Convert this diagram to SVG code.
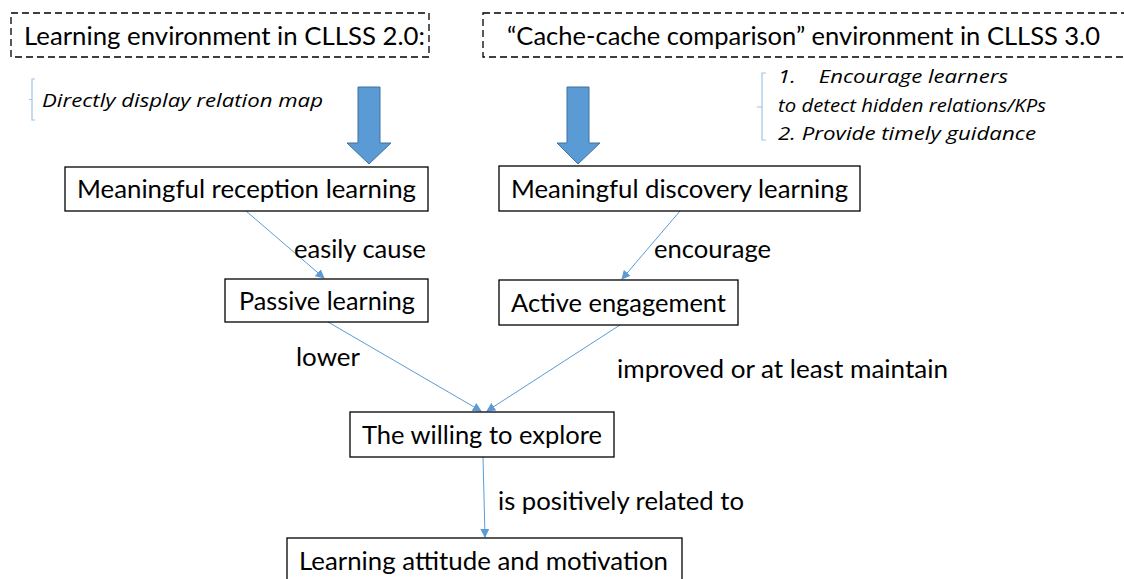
<svg xmlns="http://www.w3.org/2000/svg" width="1124" height="579" viewBox="0 0 1124 579">
<style>
.t{font-family:Lato,"Open Sans","Liberation Sans",sans-serif;font-size:25px;fill:#000}
.i{font-family:"Open Sans","Liberation Sans",sans-serif;font-style:italic;font-size:19px;fill:#000}
.box{fill:#fff;stroke:#000;stroke-width:1.3}
.dash{fill:#fff;stroke:#000;stroke-width:1.3;stroke-dasharray:7 4}
.con{stroke:#5B9BD5;stroke-width:1;fill:none;marker-end:url(#ah)}
.brace{stroke:#9DC3E6;stroke-width:1.2;fill:none}
.big{fill:#5B9BD5;stroke:#41719C;stroke-width:1}
</style>
<defs>
<marker id="ah" viewBox="0 0 10 10" refX="9" refY="5" markerWidth="9" markerHeight="9" markerUnits="userSpaceOnUse" orient="auto">
<path d="M0,0 L10,5 L0,10 z" fill="#5B9BD5"/>
</marker>
</defs>
<rect width="1124" height="579" fill="#fff"/>

<g id="env20">
<rect class="dash" x="11" y="13" width="418" height="44"/>
<text class="t" x="24" y="45" textLength="401" lengthAdjust="spacingAndGlyphs">Learning environment in CLLSS 2.0:</text>
</g>
<g id="env30">
<rect class="dash" x="483" y="13" width="650" height="44"/>
<text class="t" x="507" y="45" textLength="593" lengthAdjust="spacingAndGlyphs">“Cache-cache comparison” environment in CLLSS 3.0</text>
</g>

<g id="note20">
<path class="brace" d="M35,79 H32 V120 H35 M32,99.5 H29"/>
<text class="i" x="42" y="107" textLength="281" lengthAdjust="spacingAndGlyphs">Directly display relation map</text>
</g>
<g id="note30">
<path class="brace" d="M766,73 H762 V140 H766 M762,107 H757"/>
<text class="i" x="778" y="83" xml:space="preserve" textLength="230" lengthAdjust="spacingAndGlyphs">1.    Encourage learners</text>
<text class="i" x="778" y="112" textLength="268" lengthAdjust="spacingAndGlyphs">to detect hidden relations/KPs</text>
<text class="i" x="778" y="140" textLength="258" lengthAdjust="spacingAndGlyphs">2. Provide timely guidance</text>
</g>

<g id="bigarrow1">
<path class="big" d="M358,87 H380 V143 H391 L369,164 L347,143 H358 Z"/>
</g>
<g id="bigarrow2">
<path class="big" d="M567,87 H589 V143 H600 L578,164 L557,143 H567 Z"/>
</g>

<g id="connectors">
<line class="con" x1="246" y1="211" x2="324" y2="278"/>
<line class="con" x1="680" y1="211" x2="622" y2="279"/>
<line class="con" x1="328" y1="322" x2="481" y2="411"/>
<line class="con" x1="620" y1="325" x2="487" y2="411"/>
<line class="con" x1="483" y1="457" x2="485" y2="537"/>
</g>

<g id="reception">
<rect class="box" x="65" y="167" width="363" height="44"/>
<text class="t" x="77" y="198" textLength="339" lengthAdjust="spacingAndGlyphs">Meaningful reception learning</text>
</g>
<g id="discovery">
<rect class="box" x="499" y="166" width="361" height="45"/>
<text class="t" x="511" y="198" textLength="337" lengthAdjust="spacingAndGlyphs">Meaningful discovery learning</text>
</g>
<g id="passive">
<rect class="box" x="225" y="279" width="203" height="43"/>
<text class="t" x="239" y="310" textLength="176" lengthAdjust="spacingAndGlyphs">Passive learning</text>
</g>
<g id="active">
<rect class="box" x="499" y="280" width="239" height="45"/>
<text class="t" x="511" y="312" textLength="215" lengthAdjust="spacingAndGlyphs">Active engagement</text>
</g>
<g id="willing">
<rect class="box" x="350" y="412" width="264" height="45"/>
<text class="t" x="362" y="444" textLength="240" lengthAdjust="spacingAndGlyphs">The willing to explore</text>
</g>
<g id="attitude">
<rect class="box" x="287" y="538" width="395" height="45"/>
<text class="t" x="299" y="570" textLength="369" lengthAdjust="spacingAndGlyphs">Learning attitude and motivation</text>
</g>

<g id="labels">
<text class="t" x="294" y="258" textLength="132" lengthAdjust="spacingAndGlyphs">easily cause</text>
<text class="t" x="654" y="258" textLength="117" lengthAdjust="spacingAndGlyphs">encourage</text>
<text class="t" x="296" y="366" textLength="64" lengthAdjust="spacingAndGlyphs">lower</text>
<text class="t" x="617" y="378" textLength="331" lengthAdjust="spacingAndGlyphs">improved or at least maintain</text>
<text class="t" x="498" y="510" textLength="246" lengthAdjust="spacingAndGlyphs">is positively related to</text>
</g>
</svg>
